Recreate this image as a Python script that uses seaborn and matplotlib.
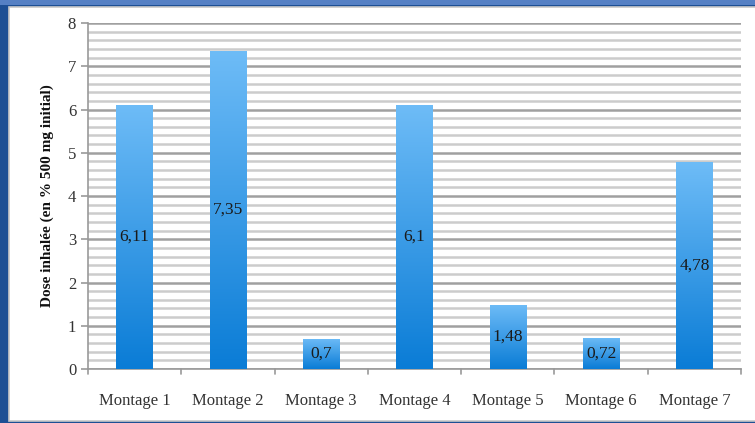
import numpy as np
import pandas as pd
import matplotlib
matplotlib.use("Agg")
import matplotlib.pyplot as plt
import seaborn as sns
from matplotlib.patches import Rectangle
from matplotlib.colors import LinearSegmentedColormap

categories = ["Montage 1", "Montage 2", "Montage 3", "Montage 4", "Montage 5", "Montage 6", "Montage 7"]
values = [6.11, 7.35, 0.7, 6.1, 1.48, 0.72, 4.78]
labels = ["6,11", "7,35", "0,7", "6,1", "1,48", "0,72", "4,78"]
ylabel = "Dose inhalée (en % 500 mg initial)"

sns.set_theme(style="white")
plt.rcParams["font.family"] = ["Liberation Serif", "DejaVu Serif"]

fig = plt.figure(figsize=(7.55, 4.23), dpi=100)
fig.patch.set_facecolor("white")
# slide frame
fig.patches.append(Rectangle((0, 0), 1, 1, transform=fig.transFigure, facecolor="#1d4f94", edgecolor="none", zorder=-3))
fig.patches.append(Rectangle((0, 1-5/423), 1, 5/423, transform=fig.transFigure, facecolor="#5580c4", edgecolor="none", zorder=-2))
fig.patches.append(Rectangle((9/755, 2/423), 1, 1-7/423-2/423, transform=fig.transFigure, facecolor="white", edgecolor="#c8c8c8", linewidth=1.2, zorder=-1))

ax = fig.add_axes([88/755, 1-369/423, (741-88)/755, (369-23)/423])
ax.set_facecolor("none")
df = pd.DataFrame({"cat": categories, "val": values})
sns.barplot(data=df, x="cat", y="val", ax=ax, color="#2a8fe0", width=0.39, edgecolor="none", zorder=3)

ax.set_ylim(0, 8)
ax.set_xlim(-0.5, len(categories) - 0.5)

# gradient fill
cmap = LinearSegmentedColormap.from_list("g", ["#0a7cd6", "#6ebcf7"])
grad = np.linspace(0, 1, 256).reshape(-1, 1)
for p in list(ax.patches):
    x0, w, h = p.get_x(), p.get_width(), p.get_height()
    im = ax.imshow(grad, cmap=cmap, origin="lower", extent=[x0, x0 + w, 0, h], aspect="auto", zorder=4)
    im.set_clip_path(p)
    p.set_facecolor("none")
ax.set_aspect("auto")
ax.set_xlim(-0.5, len(categories) - 0.5)
ax.set_ylim(0, 8)

for i, (v, lab) in enumerate(zip(values, labels)):
    ax.text(i, v / 2, lab, ha="center", va="center", fontsize=12.5, color="#1a1a1a", zorder=6)

# grid
ax.set_yticks(range(0, 9))
ax.set_yticks(np.arange(0, 8.01, 0.2), minor=True)
ax.grid(which="minor", axis="y", color="#cccccc", linewidth=1.8, zorder=1)
ax.grid(which="major", axis="y", color="#a0a0a0", linewidth=1.8, zorder=2)
ax.grid(axis="x", visible=False)

ax.set_xticks(np.arange(len(categories)))
ax.set_xticklabels(categories, fontsize=12, color="#333333")
ax.tick_params(axis="x", which="major", length=0, pad=17)
for xb in np.arange(-0.5, len(categories), 1.0):
    ax.plot([xb, xb], [0, -0.12], color="#999999", lw=1.2, clip_on=False, zorder=5)

ax.tick_params(axis="y", which="major", length=5, color="#999999", width=1.2, labelsize=12, labelcolor="#333333", left=True)
ax.tick_params(axis="y", which="minor", length=0)

for s in ["top", "right"]:
    ax.spines[s].set_visible(False)
ax.spines["left"].set_color("#999999")
ax.spines["bottom"].set_color("#999999")
ax.spines["left"].set_linewidth(1.2)
ax.spines["bottom"].set_linewidth(1.2)

ax.set_xlabel("")
ax.set_ylabel(ylabel, fontsize=11, fontweight="bold", color="#111111", labelpad=10)

fig.savefig("out.png", dpi=100)
